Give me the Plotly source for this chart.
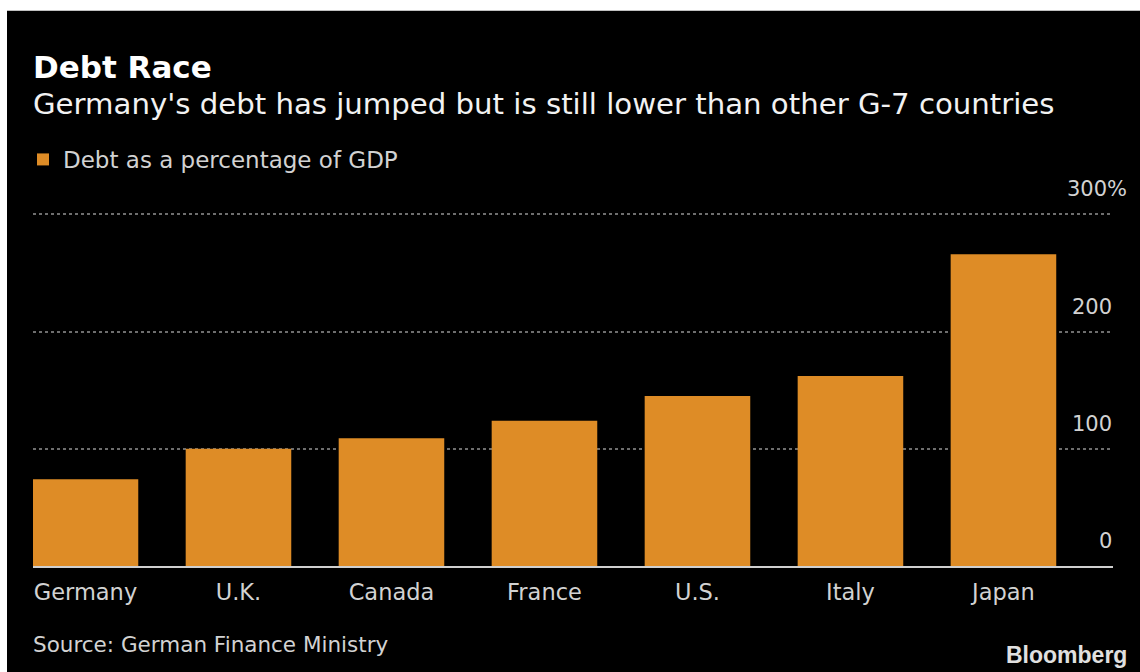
import plotly.graph_objects as go

countries = ["Germany", "U.K.", "Canada", "France", "U.S.", "Italy", "Japan"]
debt_pct = [74, 100, 109, 124, 145, 162, 266]
y_ticks = [0, 100, 200, 300]
y_tick_text = ["0", "100", "200", "300%"]

W, H = 1140, 672
Y_TOP = 302
L, R, B = 33, 27, 105.5
T = 214 - (Y_TOP - 300) * (566.5 - 214) / 300
PW, PH = W - L - R, H - T - B

def px(x):
    return (x - L) / PW

def py(y):
    return (H - B - y) / PH

BAR = "#de8c26"
TXT = "#d2d2d2"
FONT = "DejaVu Sans"

fig = go.Figure()
fig.add_trace(go.Bar(
    x=countries, y=debt_pct, name="Debt as a percentage of GDP",
    marker=dict(color=BAR, line=dict(width=0)), width=0.69,
    showlegend=True,
))

annotations = []
for v, t in zip(y_ticks, y_tick_text):
    xr = 1129 if t.endswith("%") else 1114
    annotations.append(dict(x=px(xr), y=v, xref="paper", yref="y", text=t,
                            xanchor="right", yanchor="middle", yshift=25, showarrow=False,
                            font=dict(family=FONT, size=21, color=TXT)))

annotations += [
    dict(x=px(31), y=py(66), xref="paper", yref="paper", text="<b>Debt Race</b>",
         xanchor="left", yanchor="middle", showarrow=False,
         font=dict(family=FONT, size=31, color="#ffffff")),
    dict(x=px(31), y=py(103), xref="paper", yref="paper",
         text="Germany's debt has jumped but is still lower than other G-7 countries",
         xanchor="left", yanchor="middle", showarrow=False,
         font=dict(family=FONT, size=29.2, color="#f2f2f2")),
    dict(x=px(31), y=py(645), xref="paper", yref="paper",
         text="Source: German Finance Ministry",
         xanchor="left", yanchor="middle", showarrow=False,
         font=dict(family=FONT, size=21.5, color=TXT)),
    dict(x=px(1129), y=py(656), xref="paper", yref="paper",
         text="<b>Bloomberg</b>",
         xanchor="right", yanchor="middle", showarrow=False,
         font=dict(family="Liberation Sans", size=23, color="#e0e0e0")),
]

shapes = [
    dict(type="rect", xref="paper", yref="paper", layer="below",
         x0=px(7), x1=px(W + 5), y0=py(H + 5), y1=py(10),
         fillcolor="#000000", line=dict(width=0)),
]

fig.update_layout(
    width=W, height=H,
    margin=dict(l=L, r=R, t=T, b=B, pad=0),
    paper_bgcolor="#ffffff", plot_bgcolor="#000000",
    bargap=0.31,
    showlegend=True,
    legend=dict(x=px(23), y=py(159), xanchor="left", yanchor="middle",
                orientation="h", bgcolor="rgba(0,0,0,0)",
                font=dict(family=FONT, size=23, color=TXT)),
    annotations=annotations,
    shapes=shapes,
    xaxis=dict(range=[-0.343, 6.716], showgrid=False, zeroline=False,
               showline=True, linecolor="#cfcfcf", linewidth=2,
               ticks="", tickfont=dict(family=FONT, size=22.5, color=TXT),
               ticklabelstandoff=5, fixedrange=True),
    yaxis=dict(range=[0, Y_TOP], tickvals=y_ticks, showticklabels=False,
               showgrid=True, gridcolor="#6e6e6e", griddash="dot", gridwidth=1.5,
               zeroline=False, showline=False, ticks="", fixedrange=True),
)

fig.write_html("out.html", config={"displayModeBar": False},
               post_script="document.body.style.margin='0';document.body.style.overflow='hidden';")
